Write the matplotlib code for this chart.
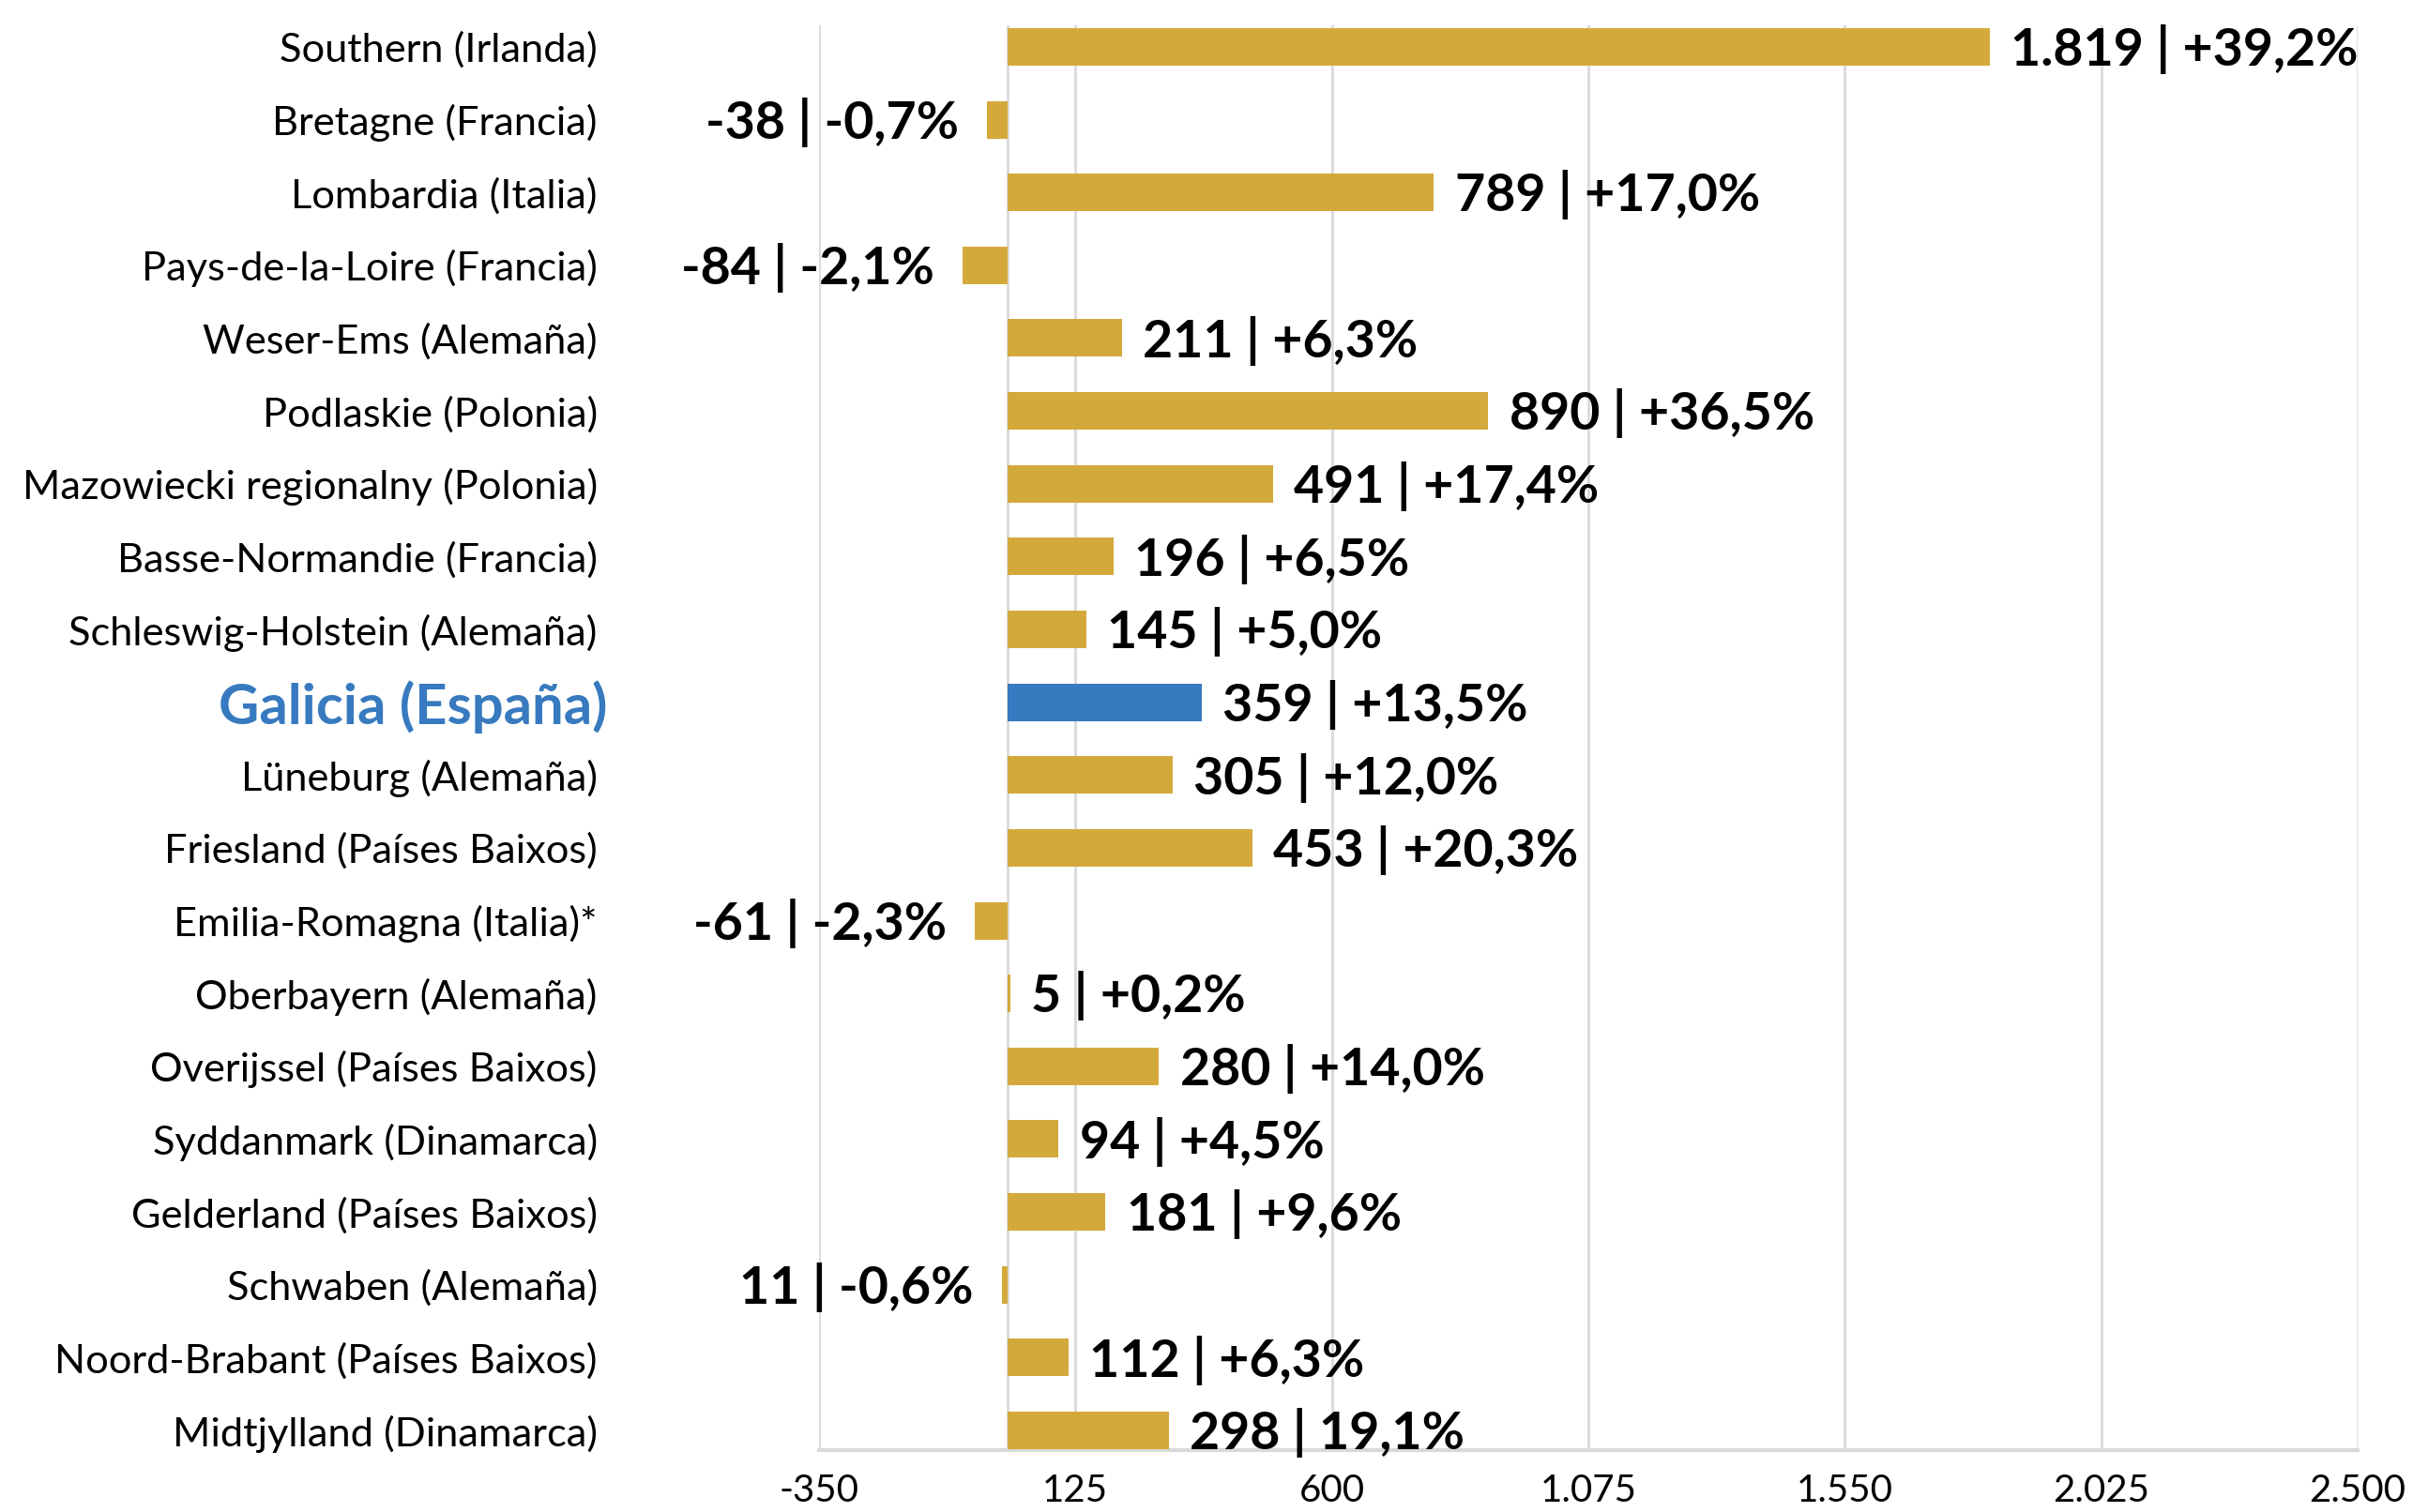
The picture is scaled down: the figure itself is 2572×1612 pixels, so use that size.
import matplotlib
matplotlib.use("Agg")
import matplotlib.pyplot as plt

plt.rcParams['font.family'] = ['Lato', 'DejaVu Sans']

categories = [
    "Southern (Irlanda)", "Bretagne (Francia)", "Lombardia (Italia)",
    "Pays-de-la-Loire (Francia)", "Weser-Ems (Alemaña)", "Podlaskie (Polonia)",
    "Mazowiecki regionalny (Polonia)", "Basse-Normandie (Francia)",
    "Schleswig-Holstein (Alemaña)", "Galicia (España)", "Lüneburg (Alemaña)",
    "Friesland (Países Baixos)", "Emilia-Romagna (Italia)*", "Oberbayern (Alemaña)",
    "Overijssel (Países Baixos)", "Syddanmark (Dinamarca)", "Gelderland (Países Baixos)",
    "Schwaben (Alemaña)", "Noord-Brabant (Países Baixos)", "Midtjylland (Dinamarca)",
]
values = [1819, -38, 789, -84, 211, 890, 491, 196, 145, 359, 305, 453, -61, 5,
          280, 94, 181, -11, 112, 298]
value_labels = [
    "1.819 | +39,2%", "-38 | -0,7%", "789 | +17,0%", "-84 | -2,1%", "211 | +6,3%",
    "890 | +36,5%", "491 | +17,4%", "196 | +6,5%", "145 | +5,0%", "359 | +13,5%",
    "305 | +12,0%", "453 | +20,3%", "-61 | -2,3%", "5 | +0,2%", "280 | +14,0%",
    "94 | +4,5%", "181 | +9,6%", "11 | -0,6%", "112 | +6,3%", "298 | 19,1%",
]
highlight = "Galicia (España)"
xticks = [-350, 125, 600, 1075, 1550, 2025, 2500]
xtick_labels = ["-350", "125", "600", "1.075", "1.550", "2.025", "2.500"]

GOLD = "#D4A93C"
BLUE = "#377ABF"
GRID = "#D9D9D9"

fig = plt.figure(figsize=(12.86, 8.06), dpi=200)
ax = fig.add_axes([0.3394, 0.041, 0.977 - 0.3394, 0.983 - 0.041])

ypos = list(range(len(categories)))
colors = [BLUE if c == highlight else GOLD for c in categories]
ax.barh(ypos, values, height=0.515, color=colors, zorder=3)

ax.set_xlim(-350, 2500)
ax.set_ylim(len(categories) - 1 + 0.27, -0.29)
ax.set_xticks(xticks)
ax.set_xticklabels(xtick_labels, fontsize=14.5)
ax.tick_params(axis='x', length=0, pad=9)
ax.set_yticks(ypos)
ax.set_yticklabels(categories, fontsize=15.6)
ax.tick_params(axis='y', length=0, pad=85)
for lbl in ax.get_yticklabels():
    if lbl.get_text() == highlight:
        lbl.set_color(BLUE)
        lbl.set_fontweight('bold')
        lbl.set_fontsize(21.5)
        # Galicia label sits slightly further right in the reference
        import matplotlib.transforms as mtransforms
        lbl.set_transform(lbl.get_transform() +
                          mtransforms.ScaledTranslation(4 / 72, 0, fig.dpi_scale_trans))

ax.grid(axis='x', color=GRID, linewidth=1.0, zorder=0)
ax.axvline(0, color=GRID, linewidth=1.0, zorder=1)
for s in ['top', 'right', 'left']:
    ax.spines[s].set_visible(False)
ax.spines['bottom'].set_color(GRID)
ax.spines['bottom'].set_linewidth(1.5)

for y, v, t in zip(ypos, values, value_labels):
    if v >= 0:
        ax.annotate(t, (v, y), xytext=(8, -1), textcoords='offset points',
                    ha='left', va='center', fontsize=20, fontweight='bold', zorder=4)
    else:
        ax.annotate(t, (v, y), xytext=(-11, -1), textcoords='offset points',
                    ha='right', va='center', fontsize=20, fontweight='bold', zorder=4)

fig.savefig("out.png", dpi=200)
